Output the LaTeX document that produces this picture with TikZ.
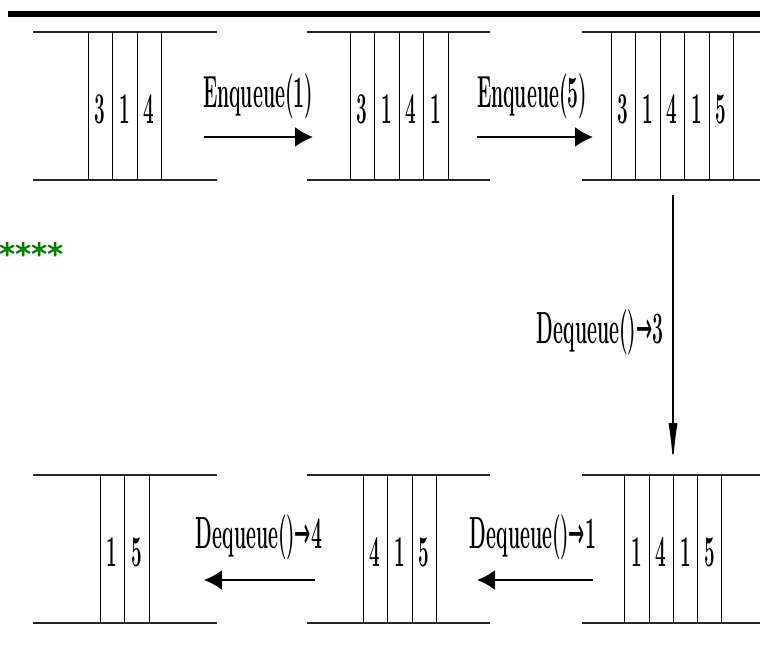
\documentclass[tikz,border=0pt]{standalone}
\usepackage{fontspec}
\usepackage{graphicx}
\usetikzlibrary{arrows.meta}
\newfontfamily\starfont{DejaVu Sans}
\definecolor{stargreen}{RGB}{0,128,0}
% tall, condensed lettering
\newcommand\narrowtext[1]{\scalebox{0.43}[1]{#1}}
\newcommand\yields{{\starfont\mdseries\symbol{"2192}}}
\tikzset{
  rail/.style={line width=2pt, draw=black!85},
  cellline/.style={line width=0.9pt},
  lbl/.style={inner sep=0pt, anchor=base, font=\fontsize{45}{45}\selectfont\bfseries},
  digit/.style={inner sep=0pt, anchor=base, font=\fontsize{44}{44}\selectfont\bfseries},
  hflow/.style={line width=2pt, -{Latex[length=18pt,width=20pt]}},
  vflow/.style={line width=1.3pt, -{Latex[length=40pt,width=9pt]}},
  stars/.style={inner sep=0pt, anchor=base west, text=stargreen,
    font=\starfont\bfseries\fontsize{31}{31}\selectfont},
}
% #1 name, #2 left end, #3 right end, #4 top rail y, #5 cell walls, #6 cell x/digit pairs
\newcommand\drawqueue[6]{%
  \draw[rail] (#2,#4) -- (#3,#4);
  \draw[rail] (#2,#4+148) -- (#3,#4+148);
  \foreach \v in {#5} \draw[cellline] (\v,#4) -- (\v,#4+148);
  \foreach \cx/\d [count=\i] in {#6}
    \node[digit] (#1-\i) at (\cx,#4+91) {\narrowtext{\d}};
}
\begin{document}
\begin{tikzpicture}[x=1pt,y=-1pt]
\useasboundingbox (0,0) rectangle (760,657);
\fill[white] (0,0) rectangle (760,657);
% heading rule
\draw[line width=6pt] (8,14) -- (760,14);

% queues, top row
\drawqueue{qa}{33}{217}{32}{88,112.5,137,161}{100.25/3,124.75/1,149/4}
\drawqueue{qb}{307}{490}{32}{350,374.5,399,423.5,448}{362.25/3,386.75/1,411.25/4,435.75/1}
\drawqueue{qc}{582}{760}{32}{611,635.5,660,684.5,709,733.5}{623.25/3,647.75/1,672.25/4,696.75/1,721.25/5}
% queues, bottom row
\drawqueue{qd}{33}{217}{475}{100,124.5,149}{112.25/1,136.75/5}
\drawqueue{qe}{307}{490}{475}{363,387.5,412,436.5}{375.25/4,399.75/1,424.25/5}
\drawqueue{qf}{582}{760}{475}{624.5,649,673.5,697.5,721.5}{636.75/1,661.25/4,685.5/1,709.5/5}

% green marks
\node[stars] (marks) at (-1,265) {****};

% operations
\coordinate (e1s) at (204,137); \coordinate (e1e) at (313,137);
\draw[hflow] (e1s) -- (e1e);
\node[lbl] (e1) at (258,107) {\narrowtext{Enqueue(1)}};

\coordinate (e5s) at (477,137); \coordinate (e5e) at (593,137);
\draw[hflow] (e5s) -- (e5e);
\node[lbl] (e5) at (532,107) {\narrowtext{Enqueue(5)}};

\coordinate (d3s) at (673,195); \coordinate (d3e) at (673,463);
\draw[vflow] (d3s) -- (d3e);
\node[lbl] (d3) at (600,343) {\narrowtext{Dequeue()\yields3}};

\coordinate (d1s) at (593,580); \coordinate (d1e) at (477,580);
\draw[hflow] (d1s) -- (d1e);
\node[lbl] (d1) at (533,548) {\narrowtext{Dequeue()\yields1}};

\coordinate (d4s) at (315,580); \coordinate (d4e) at (204,580);
\draw[hflow] (d4s) -- (d4e);
\node[lbl] (d4) at (259,548) {\narrowtext{Dequeue()\yields4}};
\end{tikzpicture}
\end{document}
